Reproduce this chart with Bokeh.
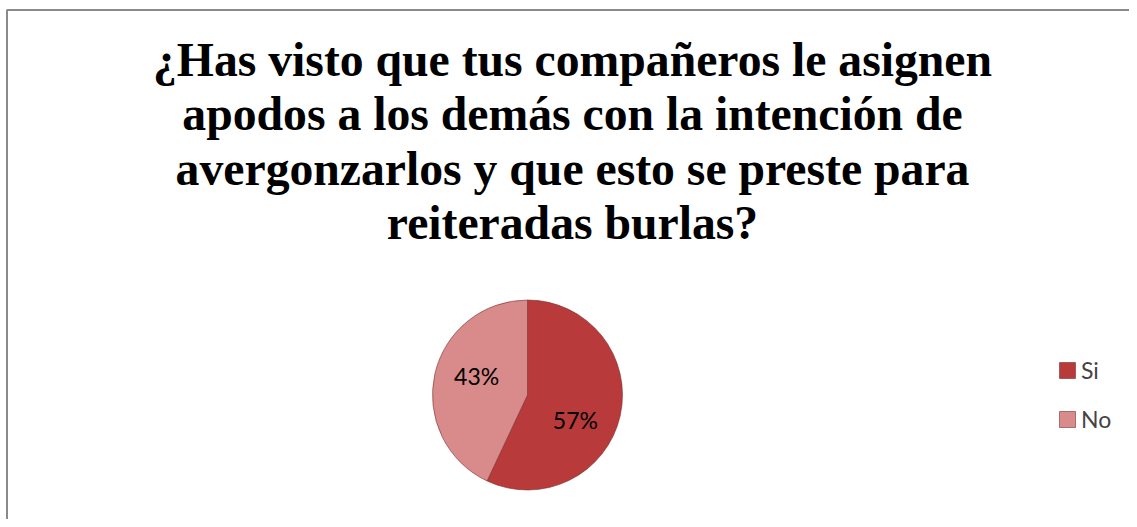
import math
from bokeh.plotting import figure
from bokeh.models import Range1d, ColumnDataSource, Legend, LegendItem
from bokeh.core.properties import value
from bokeh.embed import file_html
from bokeh.resources import INLINE

# ---- data ----
categories = ["Si", "No"]
percentages = [57, 43]
colors = ["#B83A3A", "#D98A8A"]
title_lines = [
    "¿Has visto que tus compañeros le asignen",
    "apodos a los demás con la intención de",
    "avergonzarlos y que esto se preste para",
    "reiteradas burlas?",
]

# ---- layout (picture pixel coordinates) ----
W, H = 1129, 519
cx, cy, R = 527, 394.5, 95
label_r = 0.57 * R
label_nudge = [(-5, 13), (2, -7)]   # best-fit style label placement
title_y0, title_step = 59, 54.3     # renderer places alphabetic baseline ~15px lower

p = figure(width=W, height=H, output_backend="svg", toolbar_location=None,
           x_range=Range1d(0, W), y_range=Range1d(H, 0),
           min_border=0, background_fill_color="white", border_fill_color="white")
p.axis.visible = False
p.grid.visible = False
p.outline_line_color = None

# chart-area border (left and top edges visible)
p.quad(left=[6.5], right=[W + 50], top=[9.5], bottom=[H + 50],
       fill_color=None, line_color="#8A8A8A", line_width=2)

# title
title_src = ColumnDataSource(dict(
    x=[572] * len(title_lines),
    y=[title_y0 + title_step * i for i in range(len(title_lines))],
    t=title_lines))
p.text(x="x", y="y", text="t", source=title_src,
       text_font=value("Liberation Serif"), text_font_style="bold",
       text_font_size="47.7px", text_align="center", text_baseline="alphabetic",
       text_color="black")

# pie: start at top, go clockwise
total = sum(percentages)
starts, ends, mids = [], [], []
acc = 0.0
for v in percentages:
    a0 = math.pi / 2 - 2 * math.pi * acc / total
    a1 = math.pi / 2 - 2 * math.pi * (acc + v) / total
    starts.append(a1)
    ends.append(a0)
    mids.append((a0 + a1) / 2)
    acc += v

pie_src = ColumnDataSource(dict(start=starts, end=ends, color=colors, cat=categories))
r = p.wedge(x=cx, y=cy, radius=R, radius_units="screen", start_angle="start",
            end_angle="end", fill_color="color", line_color="#7A3030",
            line_width=1, line_alpha=0.6, source=pie_src)

lab_src = ColumnDataSource(dict(
    x=[cx + label_r * math.cos(m) + d[0] for m, d in zip(mids, label_nudge)],
    y=[cy - label_r * math.sin(m) + d[1] for m, d in zip(mids, label_nudge)],
    t=[f"{v}%" for v in percentages]))
p.text(x="x", y="y", text="t", source=lab_src, text_font=value("Lato"),
       text_font_size="23px", text_align="center", text_baseline="middle",
       text_color="black")

legend = Legend(items=[LegendItem(label=c, renderers=[r], index=i)
                       for i, c in enumerate(categories)],
                location=(1057, 86), orientation="vertical",
                label_text_font="Lato", label_text_font_size="23px",
                glyph_width=20, glyph_height=20, label_height=20,
                spacing=21, padding=0, margin=0, label_standoff=4,
                border_line_color=None, background_fill_alpha=0)
p.add_layout(legend)

open("out.html", "w").write(file_html(p, INLINE))
